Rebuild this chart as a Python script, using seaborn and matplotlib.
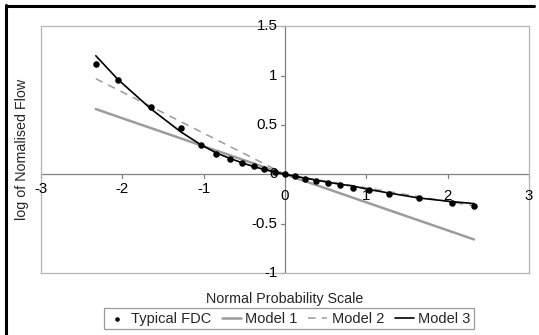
import numpy as np
import pandas as pd
import matplotlib
matplotlib.use("Agg")
import matplotlib.pyplot as plt
from matplotlib.lines import Line2D
import seaborn as sns

# ---- data ----
z = [-2.326, -2.054, -1.645, -1.282, -1.036, -0.842, -0.674, -0.524, -0.385, -0.253, -0.126, 0.0,
     0.126, 0.253, 0.385, 0.524, 0.674, 0.842, 1.036, 1.282, 1.645, 2.054, 2.326]
fdc = [1.117, 0.958, 0.678, 0.469, 0.30, 0.21, 0.155, 0.115, 0.081, 0.05, 0.024, 0.0,
       -0.02, -0.047, -0.068, -0.088, -0.108, -0.135, -0.162, -0.196, -0.24, -0.29, -0.324]
model3 = [1.20, 0.96, 0.66, 0.43, 0.30, 0.215, 0.16, 0.115, 0.078, 0.048, 0.022, 0.0,
          -0.02, -0.04, -0.06, -0.08, -0.10, -0.12, -0.155, -0.19, -0.24, -0.277, -0.297]
m1_x = [-2.326, 2.326]
m1_y = [0.66, -0.66]
m2_x = [-2.326, 0.0, 2.326]
m2_y = [0.968, 0.0, -0.32]
xticks = [-3, -2, -1, 0, 1, 2, 3]
yticks = [-1, -0.5, 0, 0.5, 1, 1.5]
ytick_labels = ["-1", "-0.5", "0", "0.5", "1", "1.5"]

sns.set_theme(style="white")
plt.rcParams['font.family'] = ['Liberation Sans', 'DejaVu Sans']

fig = plt.figure(figsize=(5.39, 3.35), dpi=100)
ax = fig.add_axes([0.0761, 0.185, 0.905, 0.737])

df_fdc = pd.DataFrame({"x": z, "y": fdc})
df_m3 = pd.DataFrame({"x": z, "y": model3})
df_m1 = pd.DataFrame({"x": m1_x, "y": m1_y})
df_m2 = pd.DataFrame({"x": m2_x, "y": m2_y})

sns.lineplot(data=df_m1, x="x", y="y", ax=ax, color="#9c9c9c", lw=1.8,
             sort=False, estimator=None, label="Model 1", zorder=2)
sns.lineplot(data=df_m2, x="x", y="y", ax=ax, color="#9c9c9c", lw=1.1,
             sort=False, estimator=None, label="Model 2", zorder=2)
ax.lines[-1].set_dashes([5, 4])
sns.lineplot(data=df_m3, x="x", y="y", ax=ax, color="black", lw=1.2,
             sort=False, estimator=None, label="Model 3", zorder=3)
sns.scatterplot(data=df_fdc, x="x", y="y", ax=ax, color="black", s=22,
                edgecolor="black", linewidth=0, label="Typical FDC", zorder=4)

ax.set_xlim(-3, 3)
ax.set_ylim(-1, 1.5)

# plot area frame
for s in ax.spines.values():
    s.set_color("#b4b4b4")
    s.set_linewidth(0.9)

# crossing axes at zero
ax.axhline(0, color="#808080", lw=0.9, zorder=1)
ax.axvline(0, color="#808080", lw=0.9, zorder=1)

ax.set_xticks(xticks)
ax.set_yticks(yticks)
ax.tick_params(length=0)
ax.set_xticklabels([])
ax.set_yticklabels([])

# tick marks on the crossing axes
for xt in xticks:
    ax.plot([xt, xt], [0, -0.04], color="#808080", lw=0.9, clip_on=False, zorder=1)
for yt in yticks:
    ax.plot([0, -0.05], [yt, yt], color="#808080", lw=0.9, clip_on=False, zorder=1)

tfs = 10.8
for xt in xticks:
    yoff = -0.075 if xt < 0 else -0.145
    ax.text(xt, yoff, str(xt), ha="center", va="top", fontsize=tfs, color="black",
            zorder=5)
for yt, lab in zip(yticks, ytick_labels):
    ax.text(-0.09, yt, lab, ha="right", va="center", fontsize=tfs, color="black", zorder=5)

ax.set_xlabel("Normal Probability Scale", fontsize=10.3)
ax.xaxis.set_label_coords(0.5, -0.075)
ax.set_ylabel("log of Nomalised Flow", fontsize=10.3)
ax.yaxis.set_label_coords(-0.04, 0.5)
ax.yaxis.label.set_va("center")

# legend
h, l = ax.get_legend_handles_labels()
order = [l.index("Typical FDC"), l.index("Model 1"), l.index("Model 2"), l.index("Model 3")]
leg = ax.legend([h[i] for i in order], [l[i] for i in order], ncol=4,
                loc="upper center", bbox_to_anchor=(0.5085, -0.142),
                frameon=True, fancybox=False, fontsize=10.5, handlelength=1.3,
                handletextpad=0.3, columnspacing=0.75, borderpad=0.25,
                borderaxespad=0, markerscale=0.7)
leg.get_frame().set_edgecolor("#808080")
leg.get_frame().set_linewidth(0.9)

# outer border (top and left visible)
fig.add_artist(Line2D([5.5 / 539, 534 / 539], [1 - 5.5 / 335, 1 - 5.5 / 335],
                      transform=fig.transFigure, color="black", lw=2.2))
fig.add_artist(Line2D([5.5 / 539, 5.5 / 539], [0, 1 - 4.5 / 335],
                      transform=fig.transFigure, color="black", lw=2.2))

fig.savefig("out.png", dpi=100)
